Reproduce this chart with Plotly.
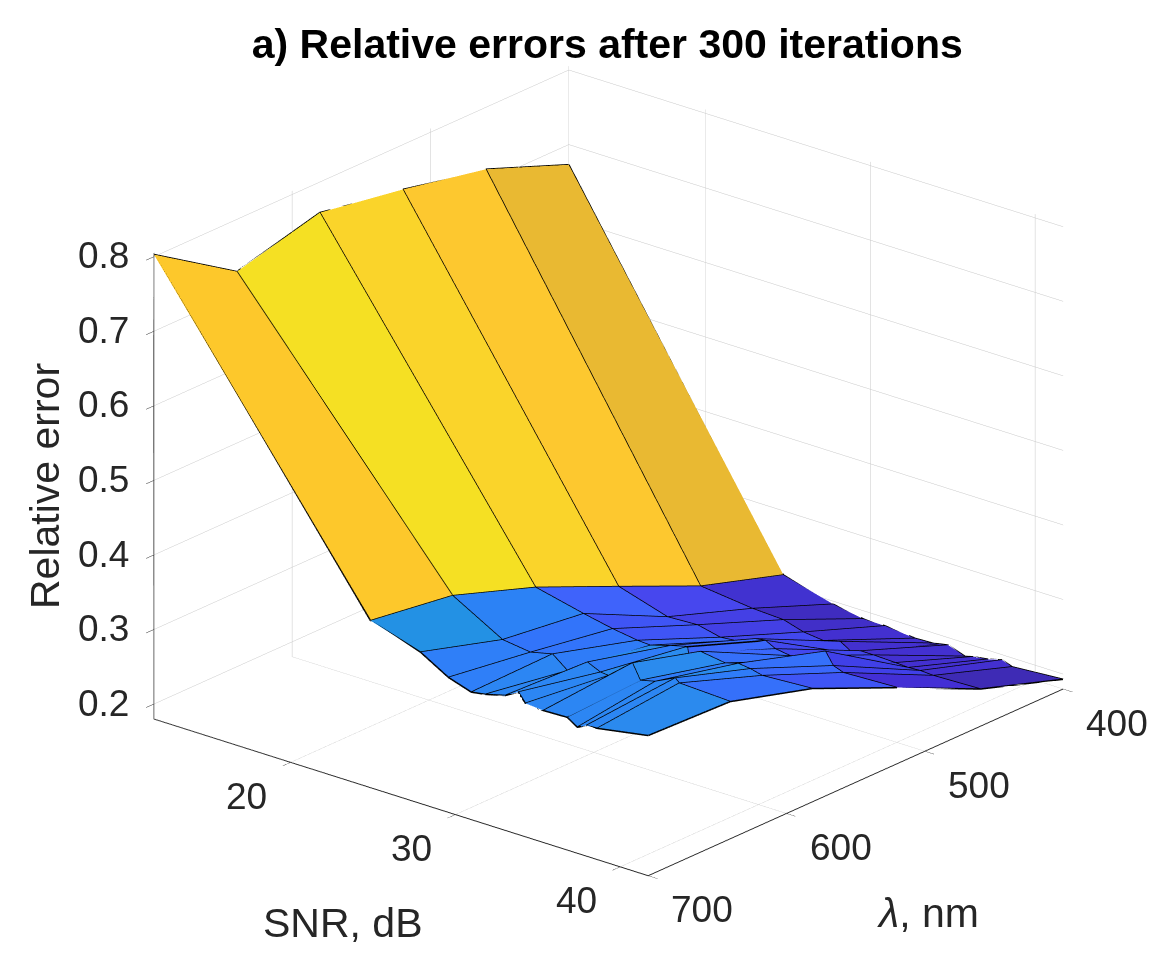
import plotly.graph_objects as go

wavelengths = [700, 640, 580, 520, 460, 400]

# one row per noise level, one column per wavelength
snr_rows = [
    [11.7, 11.7, 11.7, 11.7, 11.7, 11.7],
    [24.85, 24.79, 24.79, 24.79, 24.73, 24.73],
    [27.88, 27.82, 27.7, 27.76, 27.88, 27.76],
    [29.58, 29.52, 29.46, 29.58, 29.76, 29.58],
    [30.97, 30.85, 30.97, 30.97, 30.97, 30.91],
    [31.82, 31.76, 31.76, 31.88, 32.18, 32.73],
    [33.03, 32.97, 32.97, 33.09, 33.21, 33.82],
    [33.82, 33.76, 34.0, 33.7, 34.0, 34.25],
    [34.25, 34.25, 34.06, 34.31, 34.43, 34.73],
    [35.34, 35.7, 34.79, 35.22, 35.22, 35.76],
    [36.79, 36.18, 36.3, 36.55, 36.55, 36.25],
    [37.4, 37.09, 37.09, 37.34, 37.34, 37.15],
    [37.94, 38.3, 37.82, 37.82, 38.06, 38.0],
    [38.61, 38.55, 38.55, 38.43, 38.85, 38.61],
    [41.7, 41.64, 41.58, 41.7, 41.7, 41.7],
]
error_rows = [
    [0.803, 0.730, 0.759, 0.740, 0.717, 0.673],
    [0.404, 0.387, 0.348, 0.299, 0.249, 0.214],
    [0.383, 0.349, 0.333, 0.279, 0.241, 0.196],
    [0.361, 0.344, 0.325, 0.281, 0.239, 0.189],
    [0.351, 0.351, 0.320, 0.274, 0.231, 0.189],
    [0.354, 0.335, 0.319, 0.276, 0.228, 0.185],
    [0.361, 0.355, 0.327, 0.287, 0.234, 0.186],
    [0.371, 0.347, 0.333, 0.289, 0.223, 0.188],
    [0.359, 0.346, 0.324, 0.282, 0.230, 0.190],
    [0.357, 0.373, 0.332, 0.279, 0.230, 0.182],
    [0.358, 0.353, 0.327, 0.282, 0.229, 0.185],
    [0.349, 0.358, 0.332, 0.300, 0.228, 0.188],
    [0.355, 0.371, 0.330, 0.284, 0.229, 0.193],
    [0.356, 0.366, 0.326, 0.279, 0.228, 0.188],
    [0.368, 0.363, 0.330, 0.282, 0.230, 0.193],
]
# flat colour of each cell
cell_colors = [
    ["#FDC82B", "#F5E023", "#FAD42A", "#FDC82F", "#E9B932"],
    ["#2391E4", "#2C82F5", "#3F63FB", "#4747EE", "#4132D0"],
    ["#2F7FF8", "#3274FA", "#3F55F5", "#4440E5", "#3F2CC0"],
    ["#2F7FF8", "#3274FA", "#3F55F5", "#4340E5", "#412FC8"],
    ["#2C86F3", "#2F7CF8", "#3A68FB", "#4248EE", "#4330D0"],
    ["#2C86F3", "#2B8BEE", "#3A68FB", "#4248EE", "#4330D0"],
    ["#2C86F3", "#2F7CF8", "#3A68FB", "#4248EE", "#4330D0"],
    ["#2C86F3", "#2B8BEE", "#3A68FB", "#4248EE", "#4330D0"],
    ["#2C86F3", "#2F7CF8", "#3A68FB", "#4248EE", "#4330D0"],
    ["#2C86F3", "#2B8BEE", "#3570FA", "#4248EE", "#4330D0"],
    ["#2C86F3", "#2F7CF8", "#3A68FB", "#4040E8", "#4330D0"],
    ["#2C86F3", "#2B8BEE", "#3570FA", "#4040E8", "#4330D0"],
    ["#2C86F3", "#2F7CF8", "#3A68FB", "#4040E8", "#4330D0"],
    ["#2B8AEE", "#3570FA", "#3F55F5", "#432FD5", "#3E2BB5"],
]
snr_ticks = [20, 30, 40]
wave_ticks = [400, 500, 600, 700]
error_ticks = [0.2, 0.3, 0.4, 0.5, 0.6, 0.7, 0.8]
snr_min, snr_max = 11.7, 41.7
error_min, error_max = 0.18, 0.805

n_rows = len(snr_rows)
n_cols = len(wavelengths)

xs, ys, zs = [], [], []
for r in range(n_rows):
    for c in range(n_cols):
        xs.append(wavelengths[c])
        ys.append(snr_rows[r][c])
        zs.append(error_rows[r][c])

ii, jj, kk, face_colors = [], [], [], []
for r in range(n_rows - 1):
    for c in range(n_cols - 1):
        a = r * n_cols + c
        b = a + 1
        d = a + n_cols
        e = d + 1
        ii += [a, b]
        jj += [b, e]
        kk += [d, d]
        face_colors += [cell_colors[r][c]] * 2

# black cell edges
ex, ey, ez = [], [], []
for r in range(n_rows):
    for c in range(n_cols):
        ex.append(wavelengths[c])
        ey.append(snr_rows[r][c])
        ez.append(error_rows[r][c])
    ex.append(None)
    ey.append(None)
    ez.append(None)
for c in range(n_cols):
    for r in range(n_rows):
        ex.append(wavelengths[c])
        ey.append(snr_rows[r][c])
        ez.append(error_rows[r][c])
    ex.append(None)
    ey.append(None)
    ez.append(None)

fig = go.Figure()
fig.add_trace(go.Mesh3d(
    x=xs, y=ys, z=zs, i=ii, j=jj, k=kk, facecolor=face_colors, flatshading=True,
    lighting=dict(ambient=1, diffuse=0, specular=0, fresnel=0, roughness=1),
    hoverinfo="skip", showscale=False,
))
fig.add_trace(go.Scatter3d(
    x=ex, y=ey, z=ez, mode="lines", line=dict(color="black", width=3),
    hoverinfo="skip", showlegend=False,
))

tick_font = dict(family="Liberation Sans", size=37, color="#262626")
title_font = dict(family="Liberation Sans", size=41, color="#262626")
axis_style = dict(
    showbackground=False, showgrid=True, gridcolor="#c8c8c8", gridwidth=1,
    showline=True, linecolor="#262626", linewidth=2, zeroline=False,
    ticks="outside", ticklen=12, tickcolor="#262626", tickwidth=1,
    showticklabels=False, title=dict(text=""), showspikes=False,
)

# tick labels sit next to the axis edges, offset in pixels
labels = []
for v in error_ticks:
    labels.append(dict(x=700, y=snr_min, z=v, text=str(v), xshift=-51, yshift=1))
for v in snr_ticks:
    labels.append(dict(x=700, y=v, z=error_min, text=str(v), xshift=-44, yshift=-34))
for v in wave_ticks:
    labels.append(dict(x=v, y=snr_max, z=error_min, text=str(v), xshift=54, yshift=-34))
for a in labels:
    a.update(showarrow=False, font=tick_font)

fig.update_layout(
    width=1175, height=980, paper_bgcolor="white",
    margin=dict(l=0, r=0, t=0, b=0),
    title=dict(
        text="<b>a) Relative errors after 300 iterations</b>", x=0.51, y=0.964,
        xanchor="center", yanchor="middle",
        font=dict(family="Liberation Sans", size=41, color="black"),
    ),
    scene=dict(
        domain=dict(x=[0.0224, 1], y=[0.055, 1]),
        xaxis=dict(range=[400, 700], tickvals=wave_ticks, **axis_style),
        yaxis=dict(range=[snr_min, snr_max], tickvals=snr_ticks, **axis_style),
        zaxis=dict(range=[error_min, error_max], tickvals=error_ticks, **axis_style),
        aspectmode="manual", aspectratio=dict(x=1.394, y=1.394, z=1.087),
        camera=dict(
            eye=dict(x=0.766 * 1.6, y=0.643 * 1.6, z=0.408 * 1.6),
            center=dict(x=0, y=0, z=0), up=dict(x=0, y=0, z=1),
            projection=dict(type="orthographic"),
        ),
        annotations=labels,
    ),
)
fig.add_annotation(text="SNR, dB", x=335 / 1175, y=1 - 915 / 980, xref="paper", yref="paper",
                   xanchor="center", yanchor="middle", showarrow=False, font=title_font)
fig.add_annotation(text="<i>λ</i>, nm", x=920 / 1175, y=1 - 905 / 980, xref="paper", yref="paper",
                   xanchor="center", yanchor="middle", showarrow=False, font=title_font)
fig.add_annotation(text="Relative error", x=37 / 1175, y=1 - 478 / 980, xref="paper", yref="paper",
                   xanchor="center", yanchor="middle", showarrow=False, textangle=-90, font=title_font)

fig.write_html("out.html")
